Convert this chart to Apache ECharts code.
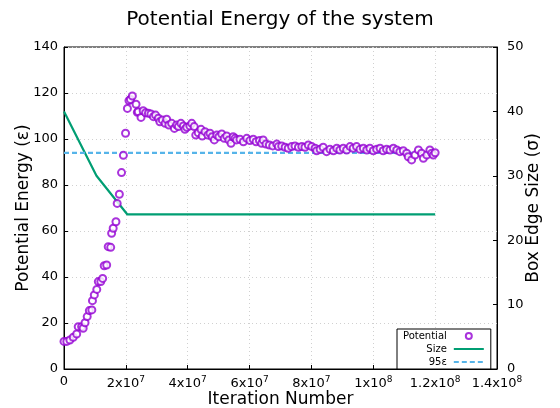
<!DOCTYPE html>
<html>
<head>
<meta charset="utf-8">
<script src="https://cdn.jsdelivr.net/npm/echarts@6/dist/echarts.min.js"></script>
<style>
  html, body { margin: 0; padding: 0; background: #fff; }
  #chart { width: 560px; height: 408px; }
</style>
</head>
<body>
<div id="chart"></div>
<script>
// potential energy samples (iteration, energy in eps)
const potX = [
  0, 0.9e6, 1.9e6, 3.0e6, 4.1e6, 4.6e6, 5.7e6, 6.2e6, 6.8e6, 7.5e6,
  8.2e6, 9.0e6, 9.2e6, 9.8e6, 10.6e6, 11.1e6, 11.9e6, 12.5e6, 13.0e6, 13.8e6,
  14.3e6, 15.1e6, 15.4e6, 15.9e6, 16.8e6, 17.2e6, 17.9e6, 18.6e6, 19.2e6, 19.9e6,
  20.5e6, 21.0e6, 21.5e6, 22.1e6, 23.3e6, 23.7e6, 24.0e6, 24.9e6, 25.6e6, 26.4e6,
  27.3e6, 28.1e6, 28.9e6, 29.6e6, 30.5e6, 31.0e6, 31.8e6, 32.7e6, 33.2e6, 33.9e6,
  34.8e6, 35.7e6, 36.4e6, 37.0e6, 37.8e6, 38.6e6, 39.1e6, 39.7e6, 40.7e6, 41.3e6,
  42.1e6, 42.6e6, 43.4e6, 44.3e6, 44.7e6, 45.6e6, 46.5e6, 47.2e6, 47.9e6, 48.6e6,
  49.4e6, 50.1e6, 51.0e6, 51.8e6, 52.6e6, 53.3e6, 54.0e6, 54.7e6, 55.3e6, 55.8e6,
  56.9e6, 58.0e6, 59.1e6, 60.1e6, 61.2e6, 62.1e6, 63.2e6, 63.9e6, 64.4e6, 65.3e6,
  66.4e6, 67.5e6, 68.8e6, 69.3e6, 70.4e6, 71.5e6, 72.5e6, 73.6e6, 74.7e6, 75.8e6,
  76.9e6, 77.9e6, 79.0e6, 80.1e6, 81.2e6, 81.7e6, 82.8e6, 83.8e6, 84.9e6, 86.0e6,
  87.1e6, 88.2e6, 89.2e6, 90.3e6, 91.4e6, 92.5e6, 93.5e6, 94.6e6, 95.7e6, 96.8e6,
  97.9e6, 98.9e6, 100.0e6, 101.1e6, 102.2e6, 103.2e6, 104.3e6, 105.4e6, 106.5e6, 107.6e6,
  108.6e6, 109.7e6, 110.8e6, 111.3e6, 112.4e6, 113.5e6, 114.6e6, 115.6e6, 116.2e6, 117.3e6,
  118.3e6, 118.9e6, 119.4e6, 120.0e6
];
const potY = [
  12, 12, 12.6, 13.8, 15.2, 18.4, 18.4, 17.7, 20.1, 22.8,
  25.4, 25.7, 29.7, 32.2, 34.6, 38, 38, 39.4, 44.9, 45.2,
  53.2, 52.9, 59, 61.2, 64, 72, 76, 85.4, 92.9, 102.5,
  113.3, 116.7, 117.2, 118.7, 115.1, 111.6, 111.9, 109.4, 112.3, 111.4,
  111.2, 110.9, 109.7, 110.4, 109, 107.5, 108.3, 106.8, 108.6, 106.1,
  106.8, 104.6, 106.1, 105.4, 106.8, 105.7, 104.2, 105.1, 105.7, 106.8,
  105.4, 101.7, 102.7, 104.2, 101.3, 103.2, 101.7, 102.5, 101, 99.6,
  101.7, 101, 102.2, 100.3, 101.3, 99.6, 98.1, 101, 100.3, 99.6,
  99.9, 98.8, 100.3, 99.3, 99.9, 98.8, 99.3, 98.1, 99.6, 97.8,
  97.4, 97, 97.8, 96.7, 97, 96.4, 96, 96.7, 97, 96.4,
  96.7, 96.4, 97.4, 96.7, 96, 94.9, 95.5, 96.4, 94.5, 95.5,
  94.9, 96, 95.2, 96, 95.2, 96.7, 96, 96.7, 95.5, 96,
  95.2, 96, 94.9, 95.5, 96, 94.9, 95.5, 95.2, 96, 95.2,
  94.5, 94.9, 93.8, 92.3, 90.9, 93, 95.2, 93.8, 91.6, 93,
  95.2, 93.8, 93, 94
];
// box edge size (sigma), right axis
const sizeX = [0, 1.05e7, 2.05e7, 1.2e8];
const sizeY = [40, 30, 24, 24];
// 95 eps reference line
const refX = [0, 1.2e8];
const refY = [94, 94];

const xTicks = { min: 0, max: 1.4e8, step: 2e7 };

const chart = echarts.init(document.getElementById('chart'));

function sciLabel(v) {
  if (v === 0) return '0';
  const e = Math.floor(Math.log10(v) + 1e-9);
  const m = +(v / Math.pow(10, e)).toFixed(1);
  return '{b|' + m + 'x10}{s|' + e + '}';
}

const font = 'DejaVu Sans';
const noMarker = { color: 'transparent', borderColor: 'transparent', borderWidth: 0 };

chart.setOption({
  animation: false,
  textStyle: { fontFamily: font, color: '#000' },
  title: {
    text: 'Potential Energy of the system',
    left: 'center',
    top: 5,
    textStyle: { fontFamily: font, fontSize: 20, fontWeight: 'normal', color: '#000' }
  },
  grid: {
    left: 64, right: 63, top: 47, bottom: 39,
    outerBoundsMode: 'none',
    containLabel: false,
    show: true, borderColor: '#000', borderWidth: 1, backgroundColor: 'transparent'
  },
  legend: {
    orient: 'vertical',
    left: 397, top: 329,
    align: 'right',
    itemWidth: 30, itemHeight: 6, itemGap: 3,
    padding: [2, 6, 2, 6],
    borderColor: '#000', borderWidth: 1, borderRadius: 0,
    backgroundColor: '#fff',
    textStyle: { fontFamily: font, fontSize: 10, color: '#000', padding: [0, 2, 0, 0] },
    data: [
      { name: 'Potential', icon: 'emptyCircle' },
      { name: 'Size', itemStyle: noMarker },
      { name: '95ε', itemStyle: noMarker }
    ]
  },
  xAxis: {
    type: 'value',
    min: xTicks.min, max: xTicks.max, interval: xTicks.step,
    name: 'Iteration Number',
    nameLocation: 'middle', nameGap: 22, nameMoveOverlap: false,
    nameTextStyle: { fontFamily: font, fontSize: 17, color: '#000' },
    axisLine: { show: true, lineStyle: { color: '#000' } },
    axisTick: { show: true, inside: true, length: 4, lineStyle: { color: '#000' } },
    axisLabel: {
      margin: 6,
      formatter: sciLabel,
      color: '#000', fontFamily: font, fontSize: 13,
      rich: {
        b: { fontFamily: font, fontSize: 13, color: '#000' },
        s: { fontFamily: font, fontSize: 9, color: '#000', padding: [0, 0, 9, 0] }
      }
    },
    splitLine: { show: true, lineStyle: { color: '#d0d0d0', type: [1, 3] } }
  },
  yAxis: [
    {
      type: 'value', min: 0, max: 140, interval: 20,
      name: 'Potential Energy (ε)',
      nameLocation: 'middle', nameGap: 32, nameRotate: 90, nameMoveOverlap: false,
      nameTextStyle: { fontFamily: font, fontSize: 17, color: '#000' },
      axisLine: { show: true, lineStyle: { color: '#000' } },
      axisTick: { show: true, inside: true, length: 4, lineStyle: { color: '#000' } },
      axisLabel: { margin: 6, color: '#000', fontFamily: font, fontSize: 13 },
      splitLine: { show: true, lineStyle: { color: '#d0d0d0', type: [1, 3] } }
    },
    {
      type: 'value', min: 0, max: 50, interval: 10, position: 'right',
      name: 'Box Edge Size (σ)',
      nameLocation: 'middle', nameGap: 28, nameRotate: 90, nameMoveOverlap: false,
      nameTextStyle: { fontFamily: font, fontSize: 17, color: '#000' },
      axisLine: { show: true, lineStyle: { color: '#000' } },
      axisTick: { show: true, inside: true, length: 4, lineStyle: { color: '#000' } },
      axisLabel: { margin: 10, color: '#000', fontFamily: font, fontSize: 13 },
      splitLine: { show: false }
    }
  ],
  series: [
    {
      name: 'Potential',
      type: 'scatter',
      yAxisIndex: 0,
      symbol: 'emptyCircle',
      symbolSize: 7,
      itemStyle: { color: '#9400d3', borderColor: '#9400d3', borderWidth: 2.6 },
      data: potX.map((x, i) => [x, potY[i]]),
      z: 3
    },
    {
      name: 'Size',
      type: 'line',
      yAxisIndex: 1,
      showSymbol: false, symbol: 'none',
      lineStyle: { color: '#009e73', width: 2.2 },
      itemStyle: { color: '#009e73' },
      data: sizeX.map((x, i) => [x, sizeY[i]]),
      z: 2
    },
    {
      name: '95ε',
      type: 'line',
      yAxisIndex: 0,
      showSymbol: false, symbol: 'none',
      lineStyle: { color: '#56b4e9', width: 2.2, type: [5, 3] },
      itemStyle: { color: '#56b4e9' },
      data: refX.map((x, i) => [x, refY[i]]),
      z: 2
    }
  ]
});
</script>
</body>
</html>
